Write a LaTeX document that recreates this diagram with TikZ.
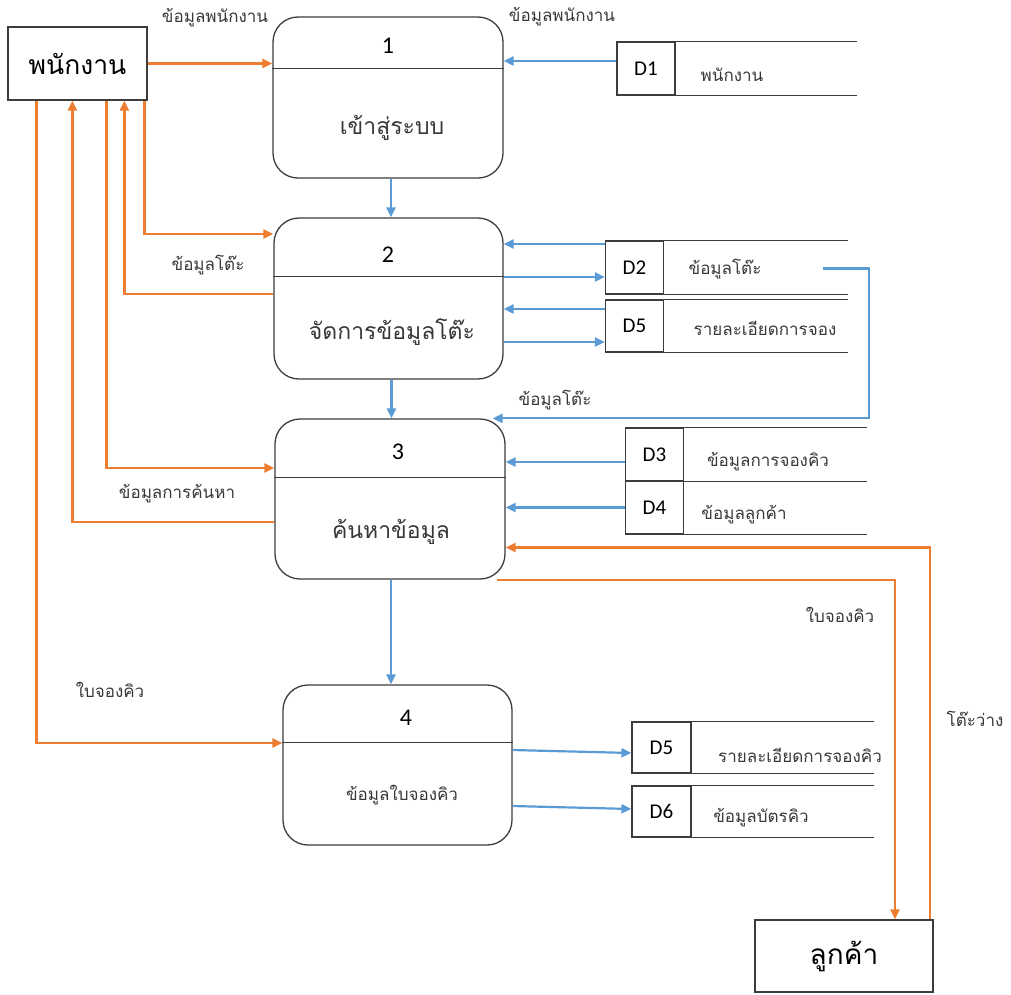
\documentclass[tikz,border=0pt]{standalone}
\usepackage{fontspec}
\setmainfont{Carlito}
\newfontfamily\thai[Script=Thai]{Loma}
\usetikzlibrary{arrows.meta}

\definecolor{floworange}{HTML}{ED7D31}
\definecolor{flowblue}{HTML}{5B9BD5}
\definecolor{edge}{HTML}{3C3C3C}
\definecolor{label}{HTML}{383838}

\tikzset{
  proc/.style={draw=edge, line width=1.3pt, rounded corners=25pt,
    minimum width=230pt, minimum height=161pt, inner sep=0pt},
  ext/.style={draw=edge, line width=1.2pt, inner sep=0pt},
  idbox/.style={draw=edge, line width=1.2pt, minimum width=58pt,
    minimum height=53pt, inner sep=0pt, text=black,
    font=\fontsize{21}{23}\selectfont},
  sline/.style={draw=edge, line width=1.2pt},
  divline/.style={draw=edge, line width=1.2pt},
  pnum/.style={inner sep=0pt, font=\fontsize{24}{26}\selectfont},
  ptitle/.style={inner sep=0pt, text=label, font=\thai\fontsize{23}{26}\selectfont},
  small/.style={inner sep=0pt, text=label, font=\thai\fontsize{17}{20}\selectfont},
  oarrow/.style={draw=floworange, line width=2.2pt,
    -{Triangle[length=10pt,width=9pt]}},
  barrow/.style={draw=flowblue, line width=2.2pt,
    -{Triangle[length=10pt,width=9pt]}},
}

\begin{document}
\begin{tikzpicture}[x=1pt,y=-1pt]
\useasboundingbox (0,0) rectangle (1011,994);

% external entities
\node[ext, minimum width=139pt, minimum height=73pt,
  font=\thai\fontsize{26.5}{30}\selectfont] (emp) at (77.5,63.5) {พนักงาน};
\node[ext, minimum width=178pt, minimum height=72pt,
  font=\thai\fontsize{28}{32}\selectfont] (cust) at (844,956) {ลูกค้า};

% processes
\node[proc] (p1) at (388,97.5) {};
\node[proc, minimum width=229pt] (p2) at (388.5,298.5) {};
\node[proc, minimum height=160pt] (p3) at (390,499) {};
\node[proc, minimum width=229pt, minimum height=160pt] (p4) at (397.5,765) {};

\draw[divline] ([yshift=-52pt]p1.north west) -- ([yshift=-52pt]p1.north east);
\draw[divline] ([yshift=-59pt]p2.north west) -- ([yshift=-59pt]p2.north east);
\draw[divline] ([yshift=-59pt]p3.north west) -- ([yshift=-59pt]p3.north east);
\draw[divline] ([yshift=-58pt]p4.north west) -- ([yshift=-58pt]p4.north east);

\node[pnum] (p1n) at (388,46) {1};
\node[ptitle] (p1t) at (392,128) {เข้าสู่ระบบ};
\node[pnum] (p2n) at (388,255) {2};
\node[ptitle] (p2t) at (392,332) {จัดการข้อมูลโต๊ะ};
\node[pnum] (p3n) at (398,452) {3};
\node[ptitle] (p3t) at (391,532) {ค้นหาข้อมูล};
\node[pnum] (p4n) at (406,718) {4};
\node[small] (p4t) at (402,795) {ข้อมูลใบจองคิว};

% data stores
\node[idbox] (d1) at (646,68.5) {D1};
\draw[sline] (d1.north west) -- ++(241,0);
\draw[sline] (d1.south west) -- ++(241,0);
\node[small] (d1t) at (732,75) {พนักงาน};

\node[idbox] (d2) at (634.5,267.5) {D2};
\draw[sline] (d2.north west) -- ++(243,0);
\draw[sline] (d2.south west) -- ++(243,0);
\node[small] (d2t) at (725,269) {ข้อมูลโต๊ะ};

\node[idbox, minimum height=52pt] (d5a) at (634.5,326) {D5};
\draw[sline] (d5a.north west) -- ++(243,0);
\draw[sline] (d5a.south west) -- ++(243,0);
\node[small] (d5at) at (765,328) {รายละเอียดการจอง};

\node[idbox] (d3) at (654.5,454.5) {D3};
\draw[sline] (d3.north west) -- ++(242,0);
\draw[sline] (d3.south west) -- ++(242,0);
\node[small] (d3t) at (768,462) {ข้อมูลการจองคิว};

\node[idbox] (d4) at (654.5,507.5) {D4};
\draw[sline] (d4.south west) -- ++(242,0);
\node[small] (d4t) at (744,515) {ข้อมูลลูกค้า};

\node[idbox, minimum width=59pt, minimum height=51pt] (d5b) at (661.5,747.5) {D5};
\draw[sline] (d5b.north west) -- ++(243,0);
\draw[sline] (d5b.south west) -- ++(243,0);
\node[small] (d5bt) at (800,755) {รายละเอียดการจองคิว};

\node[idbox, minimum width=59pt, minimum height=51pt] (d6) at (661.5,811.5) {D6};
\draw[sline] (d6.north west) -- ++(243,0);
\draw[sline] (d6.south west) -- ++(243,0);
\node[small] (d6t) at (761,818) {ข้อมูลบัตรคิว};

% flows between the employee and the processes
\draw[oarrow] (emp.east) -- (emp.east -| p1.west);
\draw[oarrow] ([xshift=137pt]emp.south west) |- ([yshift=64.5pt]p2.west);
\draw[oarrow] ([yshift=4.5pt]p2.west) -| ([xshift=117pt]emp.south west);
\draw[oarrow] ([xshift=99pt]emp.south west) |- ([yshift=31pt]p3.west);
\draw[oarrow] ([yshift=-23pt]p3.west) -| ([xshift=65pt]emp.south west);
\draw[oarrow] ([xshift=29pt]emp.south west) |- ([yshift=22pt]p4.west);

% flows between processes
\draw[barrow] ([xshift=3pt]p1.south) -- ([xshift=3pt]p1.south |- p2.north);
\draw[barrow] ([xshift=3pt]p2.south) -- ([xshift=3pt]p2.south |- p3.north);
\draw[barrow] ([xshift=1pt]p3.south) -- ([xshift=1pt]p3.south |- p4.north);

% flows with the data stores
\draw[barrow] ([yshift=7.5pt]d1.west) -- ([yshift=7.5pt]d1.west -| p1.east);
\draw[barrow] ([yshift=23.5pt]d2.west) -- ([yshift=23.5pt]d2.west -| p2.east);
\draw[barrow] ([yshift=-9.5pt]d2.west -| p2.east) -- ([yshift=-9.5pt]d2.west);
\draw[barrow] ([yshift=17pt]d5a.west) -- ([yshift=17pt]d5a.west -| p2.east);
\draw[barrow] ([yshift=-16pt]d5a.west -| p2.east) -- ([yshift=-16pt]d5a.west);
\coordinate (d2tap) at (823,268.5);
\draw[barrow] (d2tap) -- ++(46,0) |- ([xshift=-13pt]p3.north east);
\draw[barrow] ([yshift=-7.5pt]d3.west) -- ([yshift=-7.5pt]d3.west -| p3.east);
\draw[barrow] (d4.west) -- (d4.west -| p3.east);
\draw[barrow] ([yshift=15pt]p4.east) -- ([yshift=-5.5pt]d5b.west);
\draw[barrow] ([yshift=-41pt]p4.east) -- ([yshift=2.5pt]d6.west);

% flows with the customer
\draw[oarrow] ([xshift=-4pt]cust.north east) |- ([yshift=-48.5pt]p3.east);
\draw[oarrow] ([xshift=-9pt]p3.south east) -| ([xshift=51pt]cust.north);

% flow labels
\node[small] (l1) at (215,18) {ข้อมูลพนักงาน};
\node[small] (l2) at (562,17) {ข้อมูลพนักงาน};
\node[small] (l3) at (208,265) {ข้อมูลโต๊ะ};
\node[small] (l4) at (555,400) {ข้อมูลโต๊ะ};
\node[small] (l5) at (177,494) {ข้อมูลการค้นหา};
\node[small] (l6) at (110,690) {ใบจองคิว};
\node[small] (l7) at (840,615) {ใบจองคิว};
\node[small] (l8) at (975,719) {โต๊ะว่าง};
\end{tikzpicture}
\end{document}
